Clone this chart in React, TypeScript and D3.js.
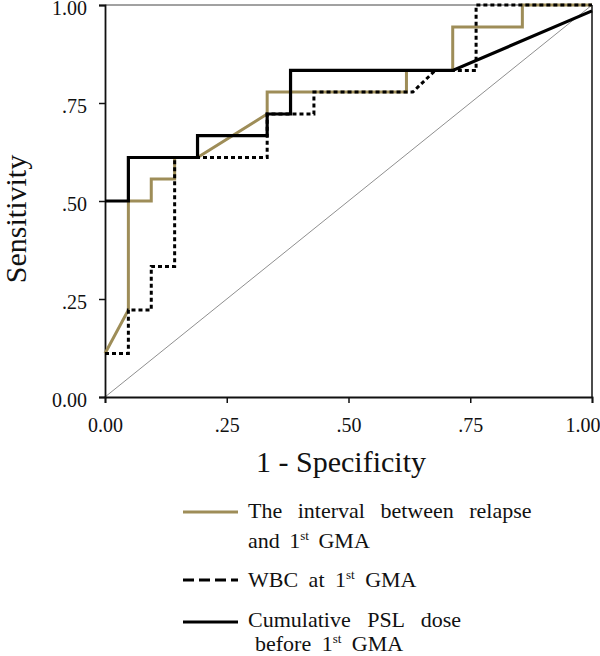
import * as d3 from 'd3';
import React, { useEffect } from 'react';

type Pt = [number, number];

// ROC curves: [1 - specificity, sensitivity]
const intervalCurve: Pt[] = [
  [0, 0.111], [0.048, 0.222], [0.048, 0.5], [0.095, 0.5], [0.095, 0.556],
  [0.143, 0.556], [0.143, 0.611], [0.19, 0.611], [0.333, 0.722], [0.333, 0.778],
  [0.619, 0.778], [0.619, 0.833], [0.714, 0.833], [0.714, 0.944], [0.857, 0.944],
  [0.857, 1], [1, 1],
];
const wbcCurve: Pt[] = [
  [0, 0.111], [0.048, 0.111], [0.048, 0.222], [0.095, 0.222], [0.095, 0.333],
  [0.143, 0.333], [0.143, 0.611], [0.333, 0.611], [0.333, 0.722], [0.429, 0.722],
  [0.429, 0.778], [0.632, 0.778], [0.678, 0.833], [0.762, 0.833], [0.762, 1], [1, 1],
];
const pslCurve: Pt[] = [
  [0, 0.5], [0.048, 0.5], [0.048, 0.611], [0.19, 0.611], [0.19, 0.667],
  [0.333, 0.667], [0.333, 0.722], [0.381, 0.722], [0.381, 0.833], [0.714, 0.833],
  [1, 0.985],
];
const blueTop: Pt[] = [[0.857, 1], [1, 1]];
const diagonal: Pt[] = [[0, 0], [1, 1]];

const tickValues = [0, 0.25, 0.5, 0.75, 1];
const tickLabels = ['0.00', '.25', '.50', '.75', '1.00'];

const GOLD = '#9e8d58';
const FONT = '"Liberation Serif", "Times New Roman", serif';

export default function App() {
  const ref = React.useRef<HTMLDivElement>(null);

  useEffect(() => {
    if (!ref.current) return;
    ref.current.innerHTML = '';

    const width = 600;
    const height = 656;

    const x = d3.scaleLinear().domain([0, 1]).range([105, 592]);
    const y = d3.scaleLinear().domain([0, 1]).range([397, 5]);

    const svg = d3
      .select(ref.current)
      .append('svg')
      .attr('width', width)
      .attr('height', height)
      .style('display', 'block')
      .style('font-family', FONT);

    svg.append('rect').attr('width', width).attr('height', height).attr('fill', '#fff');

    const line = d3
      .line<Pt>()
      .x(d => x(d[0]))
      .y(d => y(d[1]));

    // reference diagonal
    svg.append('path').attr('d', line(diagonal)).attr('fill', 'none')
      .attr('stroke', '#8f8f8f').attr('stroke-width', 1);

    // frame top / right
    svg.append('line').attr('x1', x(0)).attr('x2', x(1)).attr('y1', y(1)).attr('y2', y(1))
      .attr('stroke', '#444').attr('stroke-width', 1);
    svg.append('line').attr('x1', x(1)).attr('x2', x(1)).attr('y1', y(1)).attr('y2', y(0))
      .attr('stroke', '#111').attr('stroke-width', 1.5);

    const fmt = (d: d3.NumberValue) => tickLabels[tickValues.indexOf(+d)];

    const yAxis = svg.append('g').attr('transform', `translate(${x(0)},0)`)
      .call(d3.axisLeft(y).tickValues(tickValues).tickFormat(fmt).tickSize(6).tickPadding(12));
    yAxis.selectAll('text').attr('dy', '0.45em');

    const xAxis = svg.append('g').attr('transform', `translate(0,${y(0)})`)
      .call(d3.axisBottom(x).tickValues(tickValues).tickFormat(fmt).tickSize(6));
    xAxis.selectAll('text').attr('dy', null).attr('y', 35);
    // last label sits against the right edge of the picture
    xAxis.selectAll<SVGTextElement, number>('text')
      .filter(d => d === 1)
      .attr('text-anchor', 'end')
      .attr('x', 8);

    [yAxis, xAxis].forEach(ax => {
      ax.selectAll('text').style('font-size', '20px').style('font-family', FONT).attr('fill', '#111');
      ax.selectAll('line').attr('stroke', '#111').attr('stroke-width', 1.5);
      ax.select('.domain').attr('stroke', '#111').attr('stroke-width', 1.8);
    });

    // curves
    svg.append('path').attr('d', line(blueTop)).attr('fill', 'none')
      .attr('stroke', '#2233dd').attr('stroke-width', 1);
    svg.append('path').attr('d', line(intervalCurve)).attr('fill', 'none')
      .attr('stroke', GOLD).attr('stroke-width', 3);
    svg.append('path').attr('d', line(wbcCurve)).attr('fill', 'none')
      .attr('stroke', '#000').attr('stroke-width', 3).attr('stroke-dasharray', '4 3');
    svg.append('path').attr('d', line(pslCurve)).attr('fill', 'none')
      .attr('stroke', '#000').attr('stroke-width', 3.2);

    // axis titles
    svg.append('text').attr('x', 341).attr('y', 472).attr('text-anchor', 'middle')
      .style('font-size', '30px').attr('fill', '#111').text('1 - Specificity');
    svg.append('text').attr('transform', 'translate(26,219) rotate(-90)').attr('text-anchor', 'middle')
      .style('font-size', '30px').attr('fill', '#111').text('Sensitivity');

    // legend
    const legend = svg.append('g').style('font-size', '22px').attr('fill', '#111');
    const sup = (t: d3.Selection<SVGTextElement, unknown, null, undefined>, before: string, after: string) => {
      t.append('tspan').text(before);
      t.append('tspan').attr('dy', -8).style('font-size', '13px').text('st');
      t.append('tspan').attr('dy', 8).text(after);
    };

    legend.append('line').attr('x1', 183).attr('x2', 238).attr('y1', 512).attr('y2', 512)
      .attr('stroke', GOLD).attr('stroke-width', 3);
    legend.append('text').attr('x', 248).attr('y', 518).attr('word-spacing', 10)
      .text('The interval between relapse');
    sup(legend.append('text').attr('x', 248).attr('y', 548).attr('word-spacing', 4), 'and 1', ' GMA');

    legend.append('line').attr('x1', 183).attr('x2', 238).attr('y1', 580).attr('y2', 580)
      .attr('stroke', '#000').attr('stroke-width', 3).attr('stroke-dasharray', '11 5');
    sup(legend.append('text').attr('x', 248).attr('y', 587).attr('word-spacing', 5), 'WBC at 1', ' GMA');

    legend.append('line').attr('x1', 183).attr('x2', 238).attr('y1', 622).attr('y2', 622)
      .attr('stroke', '#000').attr('stroke-width', 3);
    legend.append('text').attr('x', 248).attr('y', 627).attr('word-spacing', 11)
      .text('Cumulative PSL dose');
    sup(legend.append('text').attr('x', 255).attr('y', 651).attr('word-spacing', 5), 'before 1', ' GMA');
  }, []);

  return <div ref={ref} style={{ position: 'absolute', left: 0, top: 0 }}></div>;
}
